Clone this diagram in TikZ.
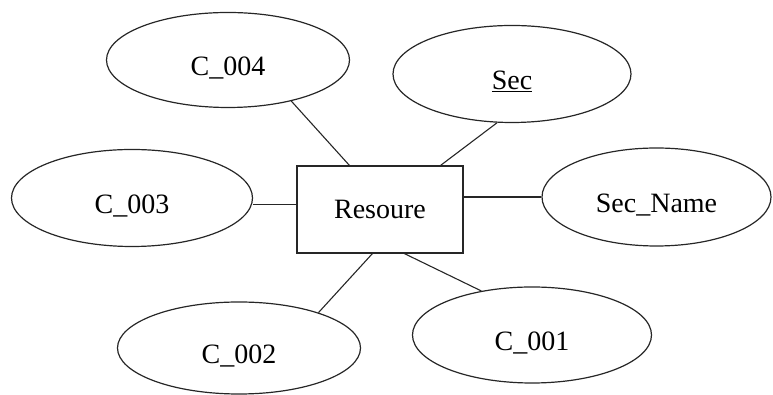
\documentclass[tikz,border=0pt]{standalone}
\usepackage{fontspec}
\setmainfont{Liberation Serif}
\usetikzlibrary{shapes.geometric}

\tikzset{
  attr/.style={ellipse, draw=black!85, line width=1.2pt, inner sep=0pt,
    text height=32pt, text depth=0pt,
    font=\fontsize{28}{30}\selectfont},
  entity/.style={rectangle, draw=black!85, line width=1.2pt, inner sep=0pt,
    font=\fontsize{28}{30}\selectfont},
  link/.style={draw=black!85, line width=1.1pt}
}

\begin{document}
\begin{tikzpicture}[x=1pt, y=1pt]
  \useasboundingbox (0,0) rectangle (773,395);

  % central entity
  \node[entity, minimum width=166pt, minimum height=87pt] (res) at (380,185.5) {Resoure};

  % attributes
  \node[attr, minimum width=243pt, minimum height=95pt] (c4) at (228,335) {C\_004};
  \node[attr, minimum width=238pt, minimum height=97pt] (sec) at (512,321) {\underline{Sec}};
  \node[attr, minimum width=241pt, minimum height=97pt] (c3) at (132,197) {C\_003};
  \node[attr, minimum width=229pt, minimum height=98pt] (sn) at (656.5,198) {Sec\_Name};
  \node[attr, minimum width=243pt, minimum height=92pt] (c2) at (239,47) {C\_002};
  \node[attr, minimum width=239pt, minimum height=96pt] (c1) at (532,60) {C\_001};

  % connectors
  \draw[link] (c4.-33.5) -- ([xshift=53pt]res.north west);
  \draw[link] (sec.-107) -- ([xshift=-23pt]res.north east);
  \draw[link] ([yshift=5pt]res.west) -- ([yshift=5pt]res.west -| c3.east);
  \draw[link] (sn.west) -- (sn.west -| res.east);
  \draw[link] ([xshift=76pt]res.south west) -- (c2.24.5);
  \draw[link] ([xshift=108pt]res.south west) -- (c1.139);
\end{tikzpicture}
\end{document}
